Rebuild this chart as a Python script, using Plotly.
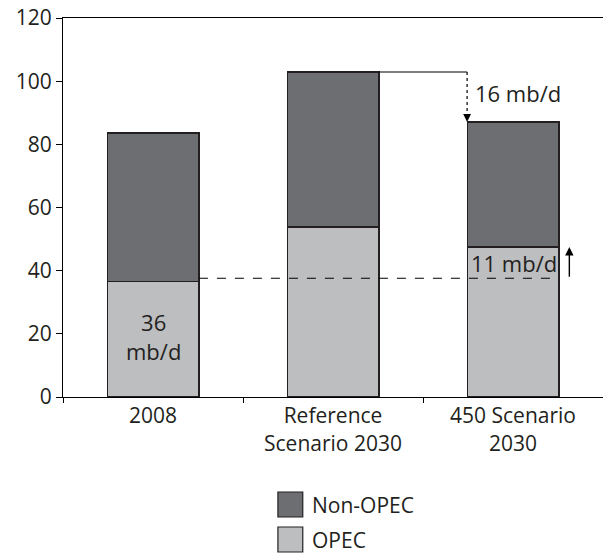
import plotly.graph_objects as go

categories = ["2008", "Reference<br>Scenario 2030", "450 Scenario<br>2030"]
opec = [36.6, 53.8, 47.5]
non_opec = [47.0, 49.1, 39.6]
y_ticks = [0, 20, 40, 60, 80, 100, 120]
legend_names = ["Non-OPEC", "OPEC"]
dark = "#6d6e71"
light = "#bcbec0"
txt = "#231f20"
FONT = "Open Sans"
FS = 21

fig = go.Figure()
fig.add_trace(go.Bar(x=categories, y=opec, name="OPEC", marker=dict(color=light, line=dict(color=txt, width=1.2)), width=0.51))
fig.add_trace(go.Bar(x=categories, y=non_opec, name="Non-OPEC", marker=dict(color=dark, line=dict(color=txt, width=1.2)), width=0.51))

tot_ref = opec[1] + non_opec[1]
tot_450 = opec[2] + non_opec[2]
hw = 0.255
dash_y = 37.6

shapes = [
    dict(type="line", xref="x", yref="y", x0=0 + hw, x1=2 + hw, y0=dash_y, y1=dash_y,
         line=dict(color="black", width=1.2, dash="dash")),
    dict(type="line", xref="x", yref="y", x0=1 + hw, x1=2 - hw, y0=tot_ref, y1=tot_ref,
         line=dict(color="black", width=1.2)),
    dict(type="line", xref="x", yref="y", x0=2 - hw, x1=2 - hw, y0=tot_ref, y1=tot_450 + 2,
         line=dict(color="black", width=1.2, dash="dot")),
    dict(type="rect", xref="paper", yref="paper", x0=0.398, x1=0.444, y0=-0.3166, y1=-0.2507,
         fillcolor=dark, line=dict(color=txt, width=1.2)),
    dict(type="rect", xref="paper", yref="paper", x0=0.398, x1=0.444, y0=-0.409, y1=-0.343,
         fillcolor=light, line=dict(color=txt, width=1.2)),
]

annotations = [
    dict(x=0, y=19, xref="x", yref="y", text="36<br>mb/d", showarrow=False,
         font=dict(family=FONT, size=22, color=txt)),
    dict(x=2 - hw + 0.03, y=96.3, xref="x", yref="y", text="16 mb/d", showarrow=False,
         xanchor="left", font=dict(family=FONT, size=22, color=txt)),
    dict(x=2 - hw + 0.01, y=42.5, xref="x", yref="y", text="11 mb/d", showarrow=False,
         xanchor="left", font=dict(family=FONT, size=22, color=txt)),
    dict(x=2 - hw, y=tot_450, ax=2 - hw, ay=tot_450 + 2.5, xref="x", yref="y", axref="x", ayref="y",
         text="", showarrow=True, arrowhead=2, arrowsize=1.3, arrowwidth=1.2, arrowcolor="black"),
    dict(x=2 + 0.313, y=opec[2], ax=2 + 0.313, ay=dash_y, xref="x", yref="y", axref="x", ayref="y",
         text="", showarrow=True, arrowhead=2, arrowsize=1.2, arrowwidth=1.4, arrowcolor="black"),
    dict(x=0.457, y=-0.285, xref="paper", yref="paper", text=legend_names[0], showarrow=False,
         xanchor="left", yanchor="middle", font=dict(family=FONT, size=FS, color=txt)),
    dict(x=0.457, y=-0.377, xref="paper", yref="paper", text=legend_names[1], showarrow=False,
         xanchor="left", yanchor="middle", font=dict(family=FONT, size=FS, color=txt)),
]

fig.update_layout(
    barmode="stack",
    width=603, height=554,
    margin=dict(l=63, r=0, t=18, b=157),
    plot_bgcolor="white", paper_bgcolor="white",
    font=dict(family=FONT, size=FS, color=txt),
    shapes=shapes, annotations=annotations,
    showlegend=False,
    bargap=0.49,
)
fig.update_xaxes(showline=True, mirror=True, linecolor="black", linewidth=1.2, ticks="outside", tickson="boundaries",
                 ticklen=5, tickcolor="black", range=[-0.5, 2.5], showgrid=False, automargin=False,
                 tickfont=dict(family=FONT, size=FS, color=txt))
fig.update_yaxes(showline=True, linecolor="black", linewidth=1.2, ticks="outside", ticklen=6, tickcolor="black",
                 range=[0, 120], tickvals=y_ticks, showgrid=False, zeroline=False, automargin=False,
                 tickfont=dict(family=FONT, size=FS, color=txt))
fig.write_html("out.html", config={"displayModeBar": False},
               post_script="document.body.style.margin='0';")
